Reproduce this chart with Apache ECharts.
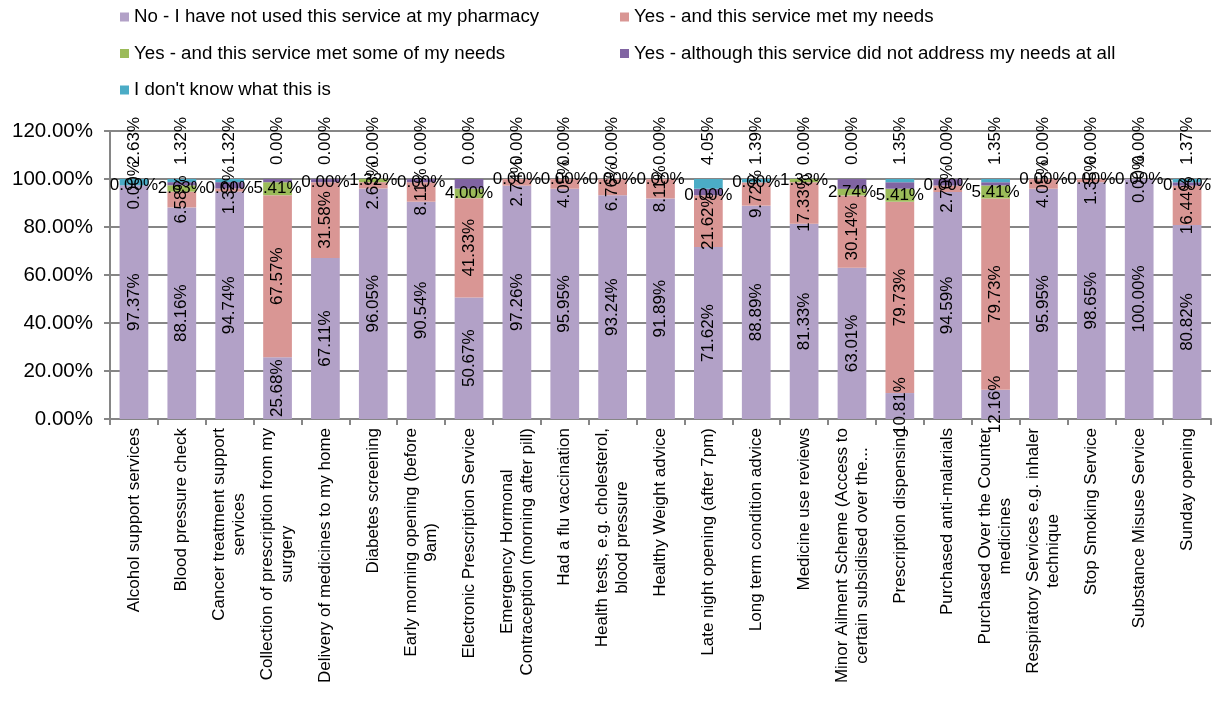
<!DOCTYPE html>
<html>
<head>
<meta charset="utf-8">
<style>
  html, body { margin: 0; padding: 0; background: #fff; }
  #chart { width: 1213px; height: 711px; }
</style>
<script src="https://cdn.jsdelivr.net/npm/echarts@6/dist/echarts.min.js"></script>
</head>
<body>
<div id="chart"></div>
<script>
// Pharmacy services survey: share of responses per service (percent)
const categories = [
  'Alcohol support services',
  'Blood pressure check',
  'Cancer treatment support\nservices',
  'Collection of prescription from my\nsurgery',
  'Delivery of medicines to my home',
  'Diabetes screening',
  'Early morning opening (before\n9am)',
  'Electronic Prescription Service',
  'Emergency Hormonal\nContraception (morning after pill)',
  'Had a flu vaccination',
  'Health tests, e.g. cholesterol,\nblood pressure',
  'Healthy Weight advice',
  'Late night opening (after 7pm)',
  'Long term condition advice',
  'Medicine use reviews',
  'Minor Ailment Scheme (Access to\ncertain subsidised over the...',
  'Prescription dispensing',
  'Purchased anti-malarials',
  'Purchased Over the Counter\nmedicines',
  'Respiratory Services e.g. inhaler\ntechnique',
  'Stop Smoking Service',
  'Substance Misuse Service',
  'Sunday opening'
];

const seriesNames = [
  'No - I have not used this service at my pharmacy',
  'Yes - and this service met my needs',
  'Yes - and this service met some of my needs',
  'Yes - although this service did not address my needs at all',
  "I don't know what this is"
];

const notUsed    = [97.37, 88.16, 94.74, 25.68, 67.11, 96.05, 90.54, 50.67, 97.26, 95.95, 93.24, 91.89, 71.62, 88.89, 81.33, 63.01, 10.81, 94.59, 12.16, 95.95, 98.65, 100.00, 80.82];
const metNeeds   = [0.00, 6.58, 1.32, 67.57, 31.58, 2.63, 8.11, 41.33, 2.74, 4.05, 6.76, 8.11, 21.62, 9.72, 17.33, 30.14, 79.73, 2.70, 79.73, 4.05, 1.35, 0.00, 16.44];
const metSome    = [0.00, 2.63, 0.00, 5.41, 0.00, 1.32, 0.00, 4.00, 0.00, 0.00, 0.00, 0.00, 0.00, 0.00, 1.33, 2.74, 5.41, 0.00, 5.41, 0.00, 0.00, 0.00, 0.00];
const notAtAll   = [0.00, 1.32, 2.63, 1.35, 1.32, 0.00, 1.35, 4.00, 0.00, 0.00, 0.00, 0.00, 2.70, 0.00, 0.00, 4.11, 2.70, 2.70, 1.35, 0.00, 0.00, 0.00, 1.37];
const dontKnow   = [2.63, 1.32, 1.32, 0.00, 0.00, 0.00, 0.00, 0.00, 0.00, 0.00, 0.00, 0.00, 4.05, 1.39, 0.00, 0.00, 1.35, 0.00, 1.35, 0.00, 0.00, 0.00, 1.37];

const yTicks = { min: 0, max: 120, step: 20 };

const colors = ['#B2A1C7', '#D99694', '#9BBB59', '#8064A2', '#4BACC6'];
const FONT = '"Liberation Sans", Arial, sans-serif';
const pct = v => Number(v).toFixed(2) + '%';

const labelBase = { color: '#000', fontFamily: FONT, fontSize: 17, formatter: p => pct(p.value) };

function barSeries(idx, data, label) {
  return {
    name: seriesNames[idx],
    type: 'bar',
    stack: 'total',
    barWidth: '60%',
    data: data,
    itemStyle: { color: colors[idx] },
    label: label,
    emphasis: { disabled: true }
  };
}

const chart = echarts.init(document.getElementById('chart'), null, { renderer: 'canvas' });

const legendText = { color: '#000', fontFamily: FONT, fontSize: 18.7, lineHeight: 20 };

chart.setOption({
  animation: false,
  color: colors,
  legend: [
    {
      data: [seriesNames[0], seriesNames[2], seriesNames[4]],
      orient: 'vertical', left: 115, top: 2, itemGap: 16.5,
      icon: 'rect', itemWidth: 9, itemHeight: 9, itemGap: 16.5,
      textStyle: legendText, selectedMode: false
    },
    {
      data: [seriesNames[1], seriesNames[3]],
      orient: 'vertical', left: 615, top: 2, itemGap: 16.5,
      icon: 'rect', itemWidth: 9, itemHeight: 9,
      textStyle: legendText, selectedMode: false
    }
  ],
  grid: { left: 110, right: 2, top: 131, bottom: 292 },
  xAxis: {
    type: 'category',
    data: categories,
    axisLine: { lineStyle: { color: '#868686', width: 2 } },
    axisTick: { show: true, alignWithLabel: false, length: 6, lineStyle: { color: '#868686', width: 2 } },
    axisLabel: {
      interval: 0, rotate: 90, margin: 9,
      color: '#000', fontFamily: FONT, fontSize: 17,
      formatter: v => v.split('\n').map(l => '{c|' + l + '}').join('\n'),
      rich: { c: { align: 'center', fontFamily: FONT, fontSize: 17, color: '#000', lineHeight: 20 } }
    }
  },
  yAxis: {
    type: 'value',
    min: yTicks.min, max: yTicks.max, interval: yTicks.step,
    axisLine: { show: true, lineStyle: { color: '#868686', width: 2 } },
    axisTick: { show: true, length: 6, lineStyle: { color: '#868686', width: 2 } },
    splitLine: { lineStyle: { color: '#868686', width: 2 } },
    axisLabel: { color: '#000', fontFamily: FONT, fontSize: 20.5, margin: 17, formatter: v => pct(v) }
  },
  series: [
    barSeries(0, notUsed,  Object.assign({ show: true, position: 'inside', rotate: 90 }, labelBase)),
    barSeries(1, metNeeds, Object.assign({ show: true, position: 'inside', rotate: 90 }, labelBase)),
    barSeries(2, metSome,  Object.assign({ show: true, position: 'inside' }, labelBase)),
    barSeries(3, notAtAll, { show: false }),
    barSeries(4, dontKnow, Object.assign({ show: true, position: ['50%', -38], rotate: 90, align: 'center', verticalAlign: 'middle' }, labelBase))
  ]
});
</script>
</body>
</html>
